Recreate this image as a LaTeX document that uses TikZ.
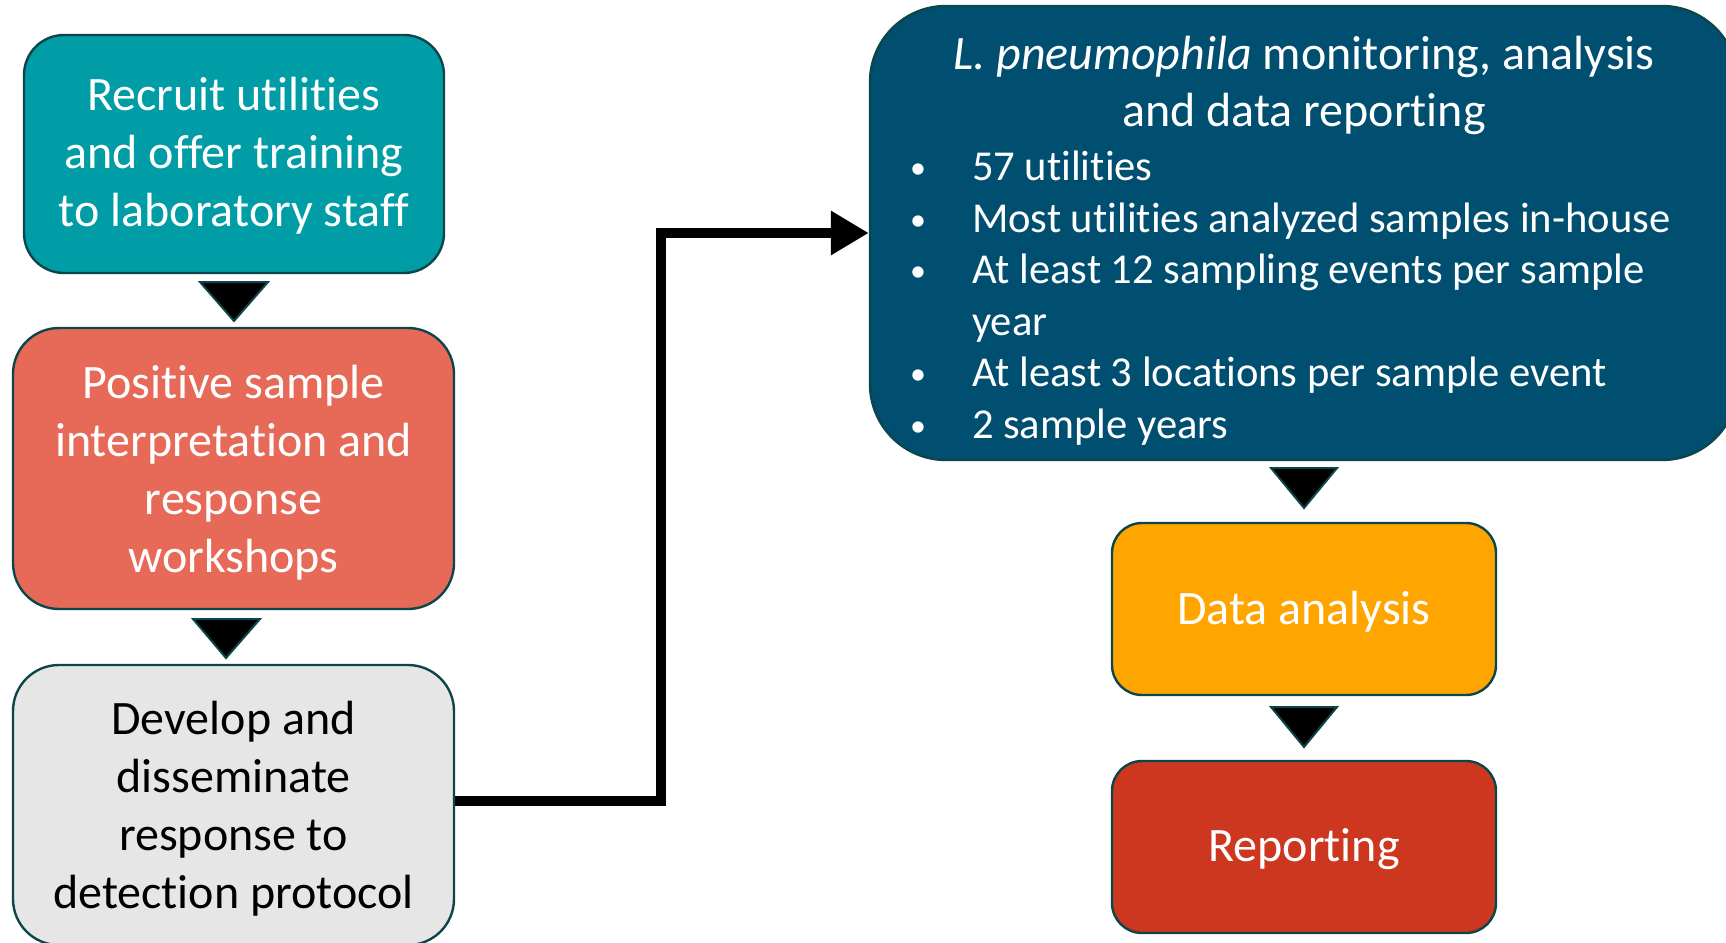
\documentclass[tikz,border=0pt]{standalone}
\usepackage{fontspec}
\setmainfont{Carlito}[Ligatures=NoCommon]
\usepackage{enumitem}
\usetikzlibrary{arrows.meta}

\definecolor{tealbox}{RGB}{0,157,167}
\definecolor{salmonbox}{RGB}{230,106,87}
\definecolor{greybox}{RGB}{230,230,230}
\definecolor{navybox}{RGB}{0,79,112}
\definecolor{orangebox}{RGB}{255,165,0}
\definecolor{redbox}{RGB}{205,55,32}
\definecolor{edgeline}{RGB}{12,70,75}

\begin{document}
\begin{tikzpicture}[x=0.5pt, y=-0.5pt,
        boxline/.style={draw=edgeline, line width=1.2pt, inner sep=0pt, text=white},
        box/.style={boxline, rounded corners=20pt, align=center, text depth=2pt,
            font=\fontsize{24}{29}\selectfont},
        tri/.style={draw=edgeline, fill=black, line width=1pt, line join=miter},
        link/.style={line width=5pt, -{Triangle[length=19pt,width=21pt]}}]

            \path[use as bounding box] (0,0) rectangle (1726,943);

            % Draw left column
            \node[box, fill=tealbox, minimum width=210pt, minimum height=119pt] (recruit) at (234,154)
                {Recruit utilities\\and offer training\\to laboratory staff};
            \node[box, fill=salmonbox, minimum width=220.5pt, minimum height=140.5pt, rounded corners=23pt, text depth=0pt] (workshop) at (233.5,468.5)
                {Positive sample\\interpretation and\\response\\workshops};
            \node[box, fill=greybox, text=black, minimum width=220.5pt, minimum height=140pt, rounded corners=23pt, text depth=-1pt] (protocol) at (233.5,805)
                {Develop and\\disseminate\\response to\\detection protocol};

            \filldraw[tri] (200,282) -- (268,282) -- (234,321) -- cycle;
            \filldraw[tri] (193,619) -- (260,619) -- (226,658) -- cycle;

            % Draw right column
            \node[boxline, fill=navybox, align=flush left, text width=420pt, minimum width=434pt, minimum height=227pt,
                    rounded corners=38pt, font=\fontsize{24}{28.5}\selectfont] (monitor) at (1304,233)
                {\spaceskip=0pt \xspaceskip=0pt
                {\centering\textit{L. pneumophila} monitoring, analysis\\and data reporting\par}\vspace{1.5pt}%
                {\fontsize{21.3}{25.75}\selectfont
                \begin{itemize}[label={\raisebox{1pt}{\fontsize{16}{16}\selectfont\textbullet}}, leftmargin=44pt, labelsep=23pt,
                        topsep=0pt, partopsep=0pt, itemsep=0pt, parsep=0pt]
                    \item 57 utilities
                    \item Most utilities analyzed samples in-house
                    \item At least 12 sampling events per sample\newline year
                    \item At least 3 locations per sample event
                    \item 2 sample years
                \end{itemize}}\vspace{-7.7pt}};
            \node[box, fill=orangebox, minimum width=192pt, minimum height=86pt, rounded corners=15pt, text depth=1pt] (analysis) at (1304,609)
                {Data analysis};
            \node[box, fill=redbox, minimum width=192pt, minimum height=86pt, rounded corners=15pt] (report) at (1304,847)
                {Reporting};

            \filldraw[tri] (1271,468) -- (1337,468) -- (1304,508) -- cycle;
            \filldraw[tri] (1271,707) -- (1337,707) -- (1304,747) -- cycle;

            % Draw link to monitoring
            \draw[link] ([yshift=2pt]protocol.east) -- ++(103pt,0) |- (monitor.west);
        \end{tikzpicture}
\end{document}
